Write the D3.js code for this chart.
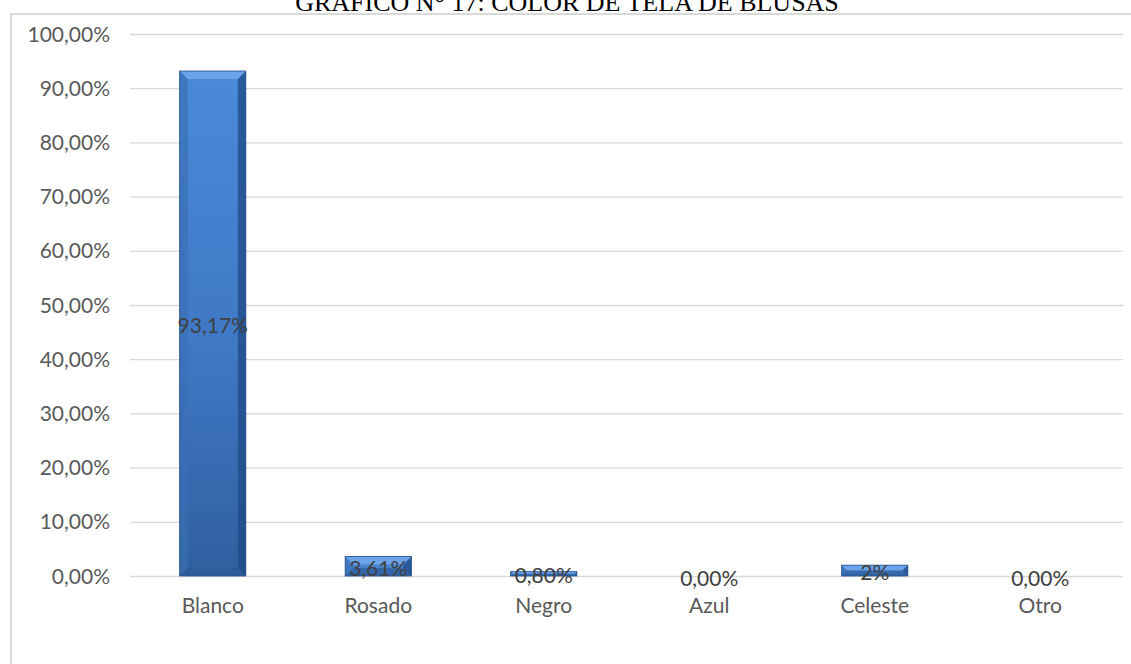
<!DOCTYPE html>
<html>
<head>
<meta charset="utf-8">
<script src="https://cdn.jsdelivr.net/npm/d3@7"></script>
<style>
  html, body { margin: 0; padding: 0; background: #fff; }
  svg { display: block; }
</style>
</head>
<body>
<svg id="chart" width="1131" height="664"></svg>
<script>
const titleText = "GRÁFICO N° 17: COLOR DE TELA DE BLUSAS";
const categories = ["Blanco", "Rosado", "Negro", "Azul", "Celeste", "Otro"];
const values = [93.17, 3.61, 0.80, 0.00, 2.00, 0.00];
const valueLabels = ["93,17%", "3,61%", "0,80%", "0,00%", "2%", "0,00%"];
const yTicks = [0, 10, 20, 30, 40, 50, 60, 70, 80, 90, 100];

const svg = d3.select("#chart");
const W = 1131, H = 664;
const margin = { left: 130, top: 34 };
const plotRight = 1123, plotBottom = 576;
const FONT = "Lato, 'Open Sans', sans-serif";

const x = d3.scaleBand().domain(categories).range([margin.left, plotRight]).paddingInner(0.6).paddingOuter(0.3);
const y = d3.scaleLinear().domain([0, 100]).range([plotBottom, margin.top]);

const defs = svg.append("defs");
const g1 = defs.append("linearGradient").attr("id", "barGrad").attr("x1", 0).attr("y1", 0).attr("x2", 0).attr("y2", 1);
g1.append("stop").attr("offset", "0%").attr("stop-color", "#4a8ad9");
g1.append("stop").attr("offset", "55%").attr("stop-color", "#3f78c4");
g1.append("stop").attr("offset", "100%").attr("stop-color", "#2f5f9f");
const g2 = defs.append("linearGradient").attr("id", "smallGrad").attr("x1", 0).attr("y1", 0).attr("x2", 0).attr("y2", 1);
g2.append("stop").attr("offset", "0%").attr("stop-color", "#5a97e0");
g2.append("stop").attr("offset", "100%").attr("stop-color", "#3a72bd");

// chart area border
svg.append("rect").attr("x", 11).attr("y", 14).attr("width", W + 20).attr("height", H + 20)
  .attr("fill", "none").attr("stroke", "#d9d9d9").attr("stroke-width", 2);

// title (partly cut at top, as in the reference)
svg.append("text").attr("x", 567).attr("y", 11).attr("text-anchor", "middle")
  .attr("font-family", "'Liberation Serif', 'Times New Roman', serif").attr("font-size", 26)
  .attr("fill", "#000").text(titleText);

// gridlines + y labels
const yAxis = d3.axisLeft(y).tickValues(yTicks).tickSize(-(plotRight - margin.left))
  .tickFormat(d => d.toFixed(2).replace(".", ",") + "%");
const ga = svg.append("g").attr("transform", `translate(${margin.left},0)`).call(yAxis);
ga.select(".domain").remove();
ga.selectAll(".tick line").attr("stroke", "#d9d9d9").attr("stroke-width", 1.3);
ga.selectAll(".tick text").attr("font-family", FONT).attr("font-size", 21)
  .attr("fill", "#595959").attr("x", -20).attr("text-anchor", "end").attr("dy", "0.34em");

// x axis labels
const xAxis = d3.axisBottom(x).tickSize(0).tickPadding(22);
const gx = svg.append("g").attr("transform", `translate(0,${plotBottom})`).call(xAxis);
gx.select(".domain").remove();
gx.selectAll(".tick text").attr("font-family", FONT).attr("font-size", 21).attr("fill", "#595959");

// bars with bevel
const bw = x.bandwidth();
const bars = svg.append("g");
categories.forEach((c, i) => {
  const v = values[i];
  if (v <= 0) return;
  const x0 = x(c), x1 = x0 + bw;
  const yt = y(v), yb = y(0);
  const h = yb - yt;
  const b = Math.min(8, h / 2);
  const g = bars.append("g");
  g.append("rect").attr("x", x0).attr("y", yt).attr("width", bw).attr("height", h)
    .attr("fill", h > 50 ? "url(#barGrad)" : "url(#smallGrad)");
  g.append("polygon").attr("points", `${x0},${yt} ${x1},${yt} ${x1 - b},${yt + b} ${x0 + b},${yt + b}`)
    .attr("fill", "#6ea6ec").attr("opacity", 0.9);
  g.append("polygon").attr("points", `${x0},${yt} ${x0 + b},${yt + b} ${x0 + b},${yb - b} ${x0},${yb}`)
    .attr("fill", "#3a6fb5").attr("opacity", 0.7);
  g.append("polygon").attr("points", `${x1},${yt} ${x1 - b},${yt + b} ${x1 - b},${yb - b} ${x1},${yb}`)
    .attr("fill", "#1f4a85").attr("opacity", 0.75);
  g.append("polygon").attr("points", `${x0},${yb} ${x0 + b},${yb - b} ${x1 - b},${yb - b} ${x1},${yb}`)
    .attr("fill", "#2a5a98").attr("opacity", 0.6);
  g.append("rect").attr("x", x0).attr("y", yt).attr("width", bw).attr("height", h)
    .attr("fill", "none").attr("stroke", "#244f8a").attr("stroke-width", 0.8);
});

// value labels
svg.append("g").selectAll("text").data(categories).join("text")
  .attr("x", d => x(d) + bw / 2)
  .attr("y", (d, i) => (y(values[i]) + y(0)) / 2 + 2)
  .attr("dy", "0.36em")
  .attr("text-anchor", "middle")
  .attr("font-family", FONT).attr("font-size", 21)
  .attr("fill", "#404040")
  .text((d, i) => valueLabels[i]);
</script>
</body>
</html>
